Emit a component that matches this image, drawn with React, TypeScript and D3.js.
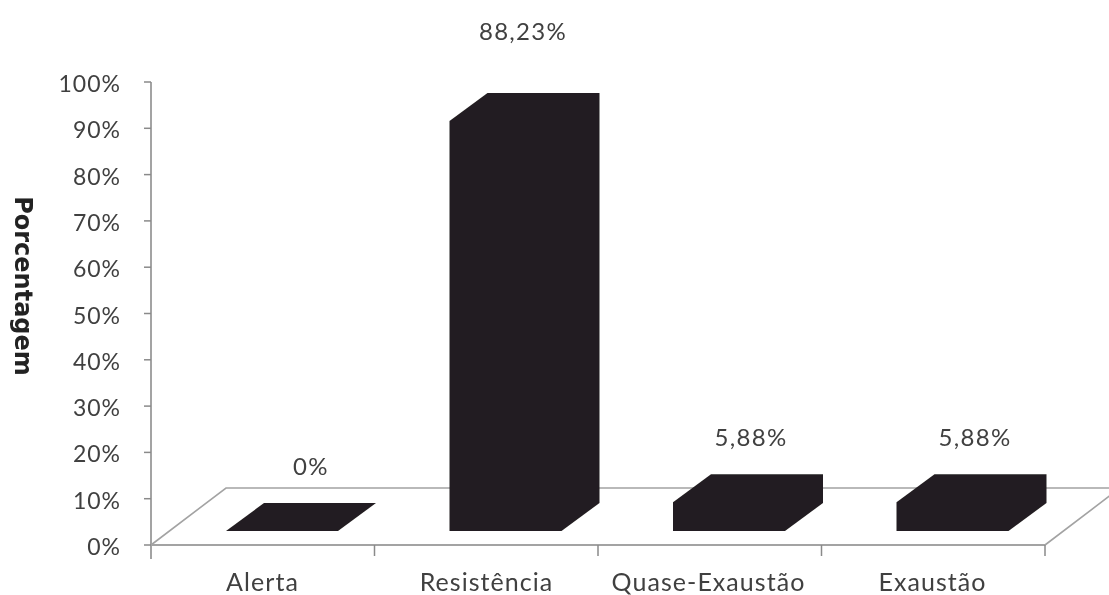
import React from "react";
import * as d3 from "d3";

const categories = ["Alerta", "Resistência", "Quase-Exaustão", "Exaustão"];
const values = [0, 88.23, 5.88, 5.88];
const valueLabels = ["0%", "88,23%", "5,88%", "5,88%"];
const yTicks = [0, 10, 20, 30, 40, 50, 60, 70, 80, 90, 100];
const yTitle = "Porcentagem";

const W = 1109, H = 595;
const AX = "#a3a3a3", BAR = "#231f20", TXT = "#414141";
const FONT = "Lato, 'Open Sans', sans-serif";

export default function App() {
  const x = d3.scaleBand<string>().domain(categories).range([151, 1045]);
  const y = d3.scaleLinear().domain([0, 100]).range([545, 82]);
  const h0 = y(0) - 14; // bar base front, raised by the floor inset
  const barInset = 75, barW = 112, depthX = 38, depthY = 28;
  const floorDX = 75, floorDY = 57;
  const line = d3.line();
  const catCentres = [262.5, 486.5, 708.5, 932.5];
  const valueCentres = [311, 523, 751, 975];
  const valueTextY = [465, 30, 436, 436];

  return (
    <svg width={W} height={H} viewBox={`0 0 ${W} ${H}`} style={{ position: "absolute", left: 0, top: 0, background: "#fff" }}>
      <defs>
        <filter id="soft" x="-5%" y="-5%" width="110%" height="110%">
          <feGaussianBlur stdDeviation="0.45" />
        </filter>
      </defs>
      <g filter="url(#soft)">
        <path
          d={line([
            [x.range()[0], y(0)],
            [x.range()[0] + floorDX, y(0) - floorDY],
            [x.range()[1] + floorDX, y(0) - floorDY],
            [x.range()[1], y(0)],
          ]) ?? ""}
          fill="#fff"
          stroke={AX}
          strokeWidth={1.6}
        />
        <line x1={151} x2={151} y1={y(100)} y2={y(0) + 14} stroke={AX} strokeWidth={2} />
        <line x1={151} x2={1045} y1={y(0)} y2={y(0)} stroke={AX} strokeWidth={2} />
        {yTicks.map((t) => (
          <line key={t} x1={144} x2={151} y1={y(t)} y2={y(t)} stroke="#8a8a8a" strokeWidth={1.5} />
        ))}
        {[...categories.map((c) => x(c)!), 1045].slice(1).map((px, i) => (
          <line key={i} x1={px} x2={px} y1={y(0)} y2={y(0) + 11} stroke="#8a8a8a" strokeWidth={1.5} />
        ))}
        {categories.map((c, i) => {
          const x0 = x(c)! + barInset;
          const x1 = x0 + barW;
          const top = h0 - (y(0) - y(values[i])) - (values[i] > 0 ? 1.5 : 0);
          const d = line([
            [x0, h0],
            [x0, top],
            [x0 + depthX, top - depthY],
            [x1 + depthX, top - depthY],
            [x1 + depthX, h0 - depthY],
            [x1, h0],
          ]) ?? "";
          return <path key={c} d={d} fill={BAR} />;
        })}
      </g>
      <g fontFamily={FONT} fill={TXT} filter="url(#soft)">
        {yTicks.map((t) => (
          <text key={t} x={121} y={y(t) + 1} textAnchor="end" dominantBaseline="central" fontSize={23} letterSpacing={1}>{t}%</text>
        ))}
        {categories.map((c, i) => (
          <text key={c} x={catCentres[i]} y={591} textAnchor="middle" fontSize={25} letterSpacing={1.05}>{c}</text>
        ))}
        {categories.map((c, i) => (
          <text key={c} x={valueCentres[i]} y={valueTextY[i]} textAnchor="middle" dominantBaseline="central" fontSize={24} letterSpacing={1.3}>{valueLabels[i]}</text>
        ))}
        <text transform="translate(15,286) rotate(90)" textAnchor="middle" fontFamily="'DejaVu Sans', sans-serif" fontWeight="bold" fontSize={24} fill="#222">{yTitle}</text>
      </g>
    </svg>
  );
}
